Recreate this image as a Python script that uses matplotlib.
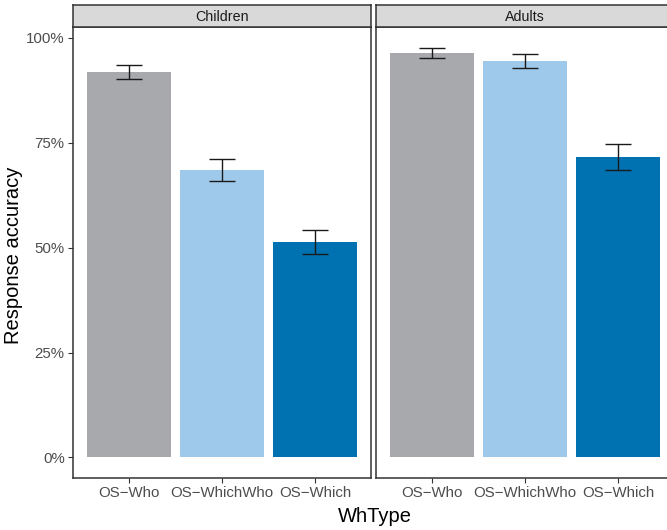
import matplotlib
matplotlib.use('Agg')
import matplotlib.pyplot as plt
import numpy as np

plt.rcParams['font.family'] = ['Liberation Sans', 'DejaVu Sans']

# data
groups = ['Children', 'Adults']
wh_types = ['OS\u2212Who', 'OS\u2212WhichWho', 'OS\u2212Which']
children_acc = [0.919, 0.685, 0.513]
children_se = [0.016, 0.026, 0.028]
adults_acc = [0.964, 0.945, 0.716]
adults_se = [0.013, 0.017, 0.032]
bar_colors = ['#A7A9AC', '#9FC9EA', '#0072B2']
y_ticks = [0, 0.25, 0.5, 0.75, 1.0]
y_ticklabels = ['0%', '25%', '50%', '75%', '100%']

W, H = 667, 530
fig = plt.figure(figsize=(W / 100, H / 100), dpi=100)
fig.patch.set_facecolor('white')

BORDER = '#333333'
TICKTXT = '#4D4D4D'

panel_left = [73, 376]
panel_w = 298
panel_top, panel_bot = 27, 478
strip_top = 5

series = [(children_acc, children_se), (adults_acc, adults_se)]

for i, (name, (acc, se)) in enumerate(zip(groups, series)):
    x0 = panel_left[i] / W
    ax = fig.add_axes([x0, 1 - panel_bot / H, panel_w / W,
                       (panel_bot - panel_top) / H])
    xs = np.arange(1, len(wh_types) + 1)
    ax.bar(xs, acc, width=0.9, color=bar_colors, zorder=2)
    ax.errorbar(xs, acc, yerr=se, fmt='none', ecolor='#1a1a1a',
                elinewidth=1.0, capsize=9.3, capthick=1.0, zorder=3)
    ax.set_xlim(0.4, 3.6)
    ax.set_ylim(-0.049, 1.026)
    ax.set_xticks(xs)
    ax.set_xticklabels(wh_types, fontsize=10.8, color=TICKTXT)
    ax.set_yticks(y_ticks)
    ax.tick_params(length=3.5, width=0.8, color=BORDER, pad=2.5)
    if i == 0:
        ax.set_yticklabels(y_ticklabels, fontsize=10.8, color=TICKTXT)
    else:
        ax.set_yticklabels([])
        ax.tick_params(axis='y', length=0)
    for sp in ax.spines.values():
        sp.set_color(BORDER)
        sp.set_linewidth(1.1)

    # facet strip
    sax = fig.add_axes([x0, 1 - panel_top / H, panel_w / W,
                        (panel_top - strip_top) / H])
    sax.set_facecolor('#D9D9D9')
    sax.set_xticks([])
    sax.set_yticks([])
    for sp in sax.spines.values():
        sp.set_color(BORDER)
        sp.set_linewidth(1.1)
    sax.text(0.5, 0.45, name, transform=sax.transAxes, ha='center',
             va='center', fontsize=10.3, color='#1A1A1A')

fig.text(375 / W, 1 - 516 / H, 'WhType', ha='center', va='center',
         fontsize=14.5)
fig.text(14 / W, 1 - 255 / H, 'Response accuracy', ha='center',
         va='center', rotation=90, fontsize=14.5)

fig.savefig('out.png', dpi=100, facecolor='white')
